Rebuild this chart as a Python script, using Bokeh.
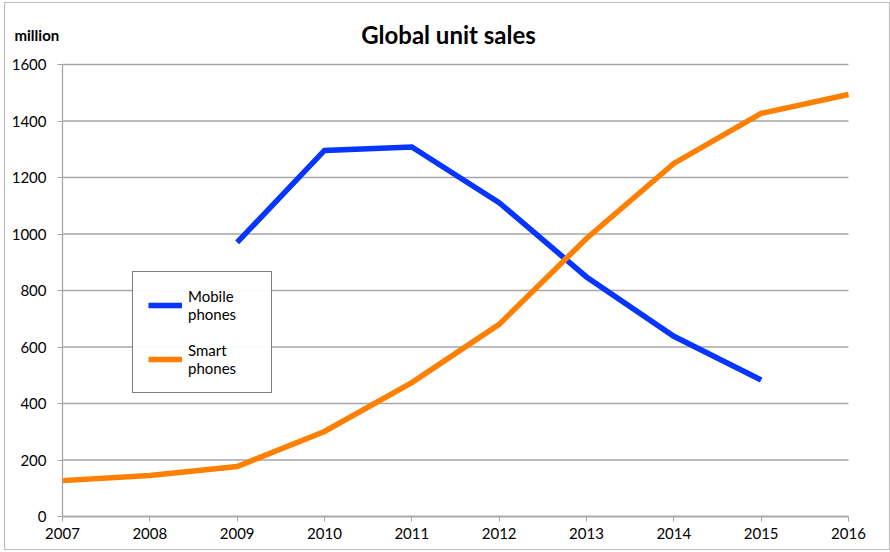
from bokeh.plotting import figure
from bokeh.models import Legend, LegendItem, Label, FixedTicker, Range1d
from bokeh.embed import file_html
from bokeh.resources import INLINE

years = [2007, 2008, 2009, 2010, 2011, 2012, 2013, 2014, 2015, 2016]
mobile_years = [2009, 2010, 2011, 2012, 2013, 2014, 2015]
mobile = [970, 1296, 1308, 1111, 848, 638, 483]
smart = [127, 145, 177, 301, 474, 680, 984, 1250, 1427, 1494]
y_ticks = [0, 200, 400, 600, 800, 1000, 1200, 1400, 1600]

FONT = "Lato"

# frame spans nearly the whole canvas; ranges padded so the data area sits where the original chart's does
p = figure(width=890, height=552, output_backend="svg", toolbar_location=None,
           title_location=None,
           x_range=Range1d(2006.336, 2016.4695), y_range=Range1d(-116.8, 1819.5),
           min_border_left=4, min_border_right=1, min_border_top=2,
           min_border_bottom=3)
p.outline_line_color = "#bdbdbd"
p.outline_line_width = 1.2
p.background_fill_color = "white"
p.border_fill_color = "white"

p.xgrid.grid_line_color = None
p.ygrid.grid_line_color = None
n = len(y_ticks)
p.segment(x0=[years[0]] * n, y0=y_ticks, x1=[years[-1]] * n, y1=y_ticks,
          line_color="#a6a6a6", line_width=1.3)

p.xaxis.ticker = FixedTicker(ticks=years)
p.yaxis.ticker = FixedTicker(ticks=y_ticks)
p.xaxis.fixed_location = y_ticks[0]
p.yaxis.fixed_location = years[0]
p.xaxis.bounds = (years[0], years[-1])
p.yaxis.bounds = (y_ticks[0], y_ticks[-1])
for ax in (p.xaxis, p.yaxis):
    ax.axis_line_color = "#a6a6a6"
    ax.axis_line_width = 1.3
    ax.major_tick_line_color = "#a6a6a6"
    ax.major_tick_in = 0
    ax.major_tick_out = 5
    ax.minor_tick_line_color = None
    ax.major_label_text_font = FONT
    ax.major_label_text_font_size = "15px"
    ax.major_label_text_color = "black"
p.xaxis.major_label_standoff = 6
p.yaxis.major_label_standoff = 11

r_mob = p.line(mobile_years, mobile, line_color="#0535FF", line_width=5.5, line_join="miter")
r_sm = p.line(years, smart, line_color="#FF8000", line_width=5.5, line_join="miter")

legend = Legend(items=[LegendItem(label="Mobile\nphones", renderers=[r_mob]),
                       LegendItem(label="Smart\nphones", renderers=[r_sm])],
                location=(128, 156))
legend.border_line_color = "black"
legend.border_line_width = 1.2
legend.label_text_font = FONT
legend.label_text_font_size = "15px"
legend.label_text_color = "black"
legend.label_text_line_height = 1.35
legend.label_width = 68
legend.glyph_width = 34
legend.glyph_height = 20
legend.spacing = 18
legend.padding = 15
legend.margin = 0
legend.label_standoff = 6
p.add_layout(legend, "center")

p.add_layout(Label(x=444, y=515, x_units="screen", y_units="screen",
                   text="Global unit sales", text_font=FONT, text_font_size="24px",
                   text_font_style="bold", text_color="black",
                   text_align="center", text_baseline="middle"))
p.add_layout(Label(x=10, y=515, x_units="screen", y_units="screen",
                   text="million", text_font=FONT, text_font_size="15px",
                   text_font_style="bold", text_color="black",
                   text_baseline="alphabetic"))

open("out.html", "w").write(file_html(p, INLINE))
